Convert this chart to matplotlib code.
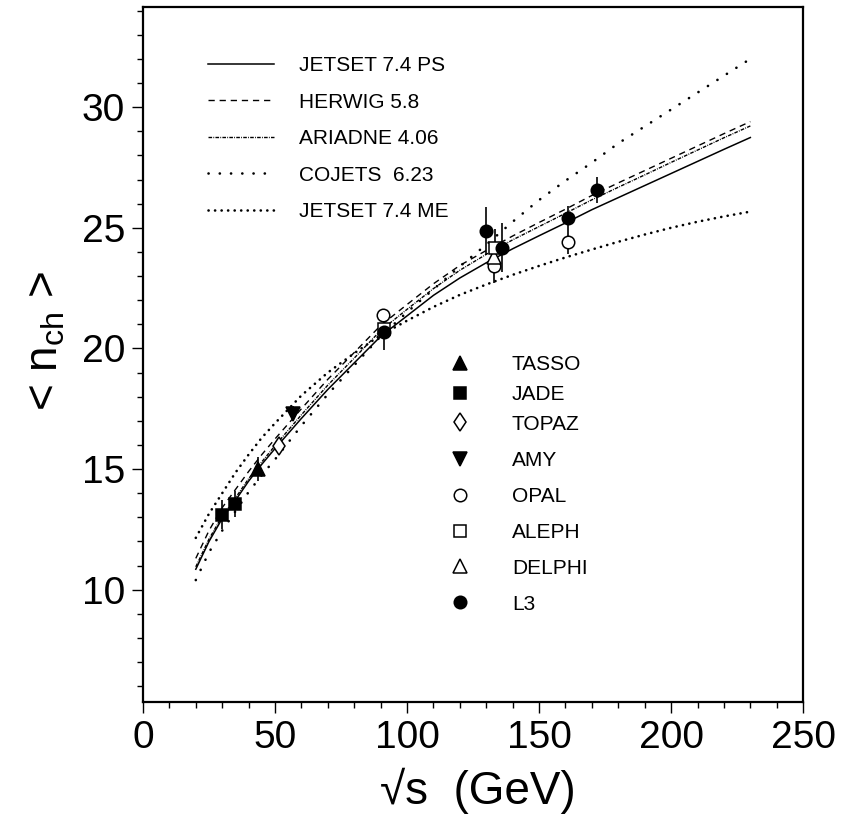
import matplotlib
matplotlib.use('Agg')
import matplotlib.pyplot as plt
from matplotlib.ticker import MultipleLocator

plt.rcParams['font.family'] = ['Liberation Sans', 'DejaVu Sans']
plt.rcParams['mathtext.default'] = 'regular'
plt.rcParams['lines.scale_dashes'] = False

# model curves, <n_ch> vs sqrt(s)
energy = [20, 25, 30, 35, 40, 45, 50, 60, 70, 80, 90, 100, 110, 120, 130,
          140, 150, 160, 170, 180, 190, 200, 210, 220, 230]
jetset_ps = [10.85, 12.0, 12.95, 13.7, 14.5, 15.2, 15.85, 17.1, 18.3, 19.4,
             20.5, 21.35, 22.2, 22.92, 23.55, 24.13, 24.67, 25.2, 25.75, 26.25,
             26.75, 27.25, 27.75, 28.25, 28.74]
herwig = [11.3, 12.45, 13.4, 14.15, 14.9, 15.6, 16.25, 17.5, 18.72, 19.83,
          20.95, 21.82, 22.68, 23.44, 24.06, 24.66, 25.22, 25.77, 26.34, 26.86,
          27.37, 27.88, 28.39, 28.9, 29.4]
ariadne = [10.95, 12.1, 13.05, 13.8, 14.6, 15.3, 15.97, 17.25, 18.48, 19.6,
           20.74, 21.62, 22.48, 23.24, 23.9, 24.5, 25.05, 25.6, 26.16, 26.68,
           27.19, 27.71, 28.22, 28.73, 29.22]
cojets = [10.4, 11.55, 12.45, 13.25, 14.05, 14.75, 15.4, 16.8, 18.1, 19.3,
          20.5, 21.5, 22.45, 23.4, 24.3, 25.25, 26.15, 26.95, 27.7, 28.5,
          29.2, 29.9, 30.6, 31.3, 32.0]
jetset_me = [12.15, 13.15, 14.0, 14.85, 15.6, 16.3, 16.9, 18.05, 19.0, 19.8,
             20.55, 21.15, 21.72, 22.22, 22.65, 23.05, 23.42, 23.77, 24.1, 24.42,
             24.72, 25.0, 25.25, 25.47, 25.67]

# measurements
tasso_x, tasso_y, tasso_e = [43.7], [15.0], [0.5]
jade_x, jade_y, jade_e = [29.8, 34.8], [13.1, 13.56], [0.6, 0.55]
topaz_x, topaz_y, topaz_e = [51.5], [15.95], [0.0]
amy_x, amy_y, amy_e = [56.9], [17.3], [0.3]
opal_x, opal_y, opal_e = [91.0, 133.0, 161.1], [21.4, 23.4, 24.42], [0.2, 0.7, 0.5]
aleph_x, aleph_y, aleph_e = [91.2, 133.3], [20.8, 24.16], [0.3, 0.8]
delphi_x, delphi_y, delphi_e = [133.0], [23.8], [0.4]
l3_x = [91.2, 130.0, 135.9, 161.1, 172.1]
l3_y = [20.7, 24.87, 24.18, 25.42, 26.57]
l3_e = [0.77, 1.0, 1.0, 0.5, 0.55]

fig = plt.figure(figsize=(8.41, 8.21), dpi=100)
ax = fig.add_axes([0.170, 0.145, 0.785, 0.8465])

curves = [
    (jetset_ps, 'JETSET 7.4 PS', dict(ls='-', lw=1.1)),
    (herwig, 'HERWIG 5.8', dict(ls=(0, (4.5, 3.5)), lw=1.0)),
    (ariadne, 'ARIADNE 4.06', dict(ls=(0, (2.6, 0.9, 0.6, 0.9)), lw=1.0)),
    (cojets, 'COJETS  6.23', dict(ls=(0, (0.1, 8.0)), lw=1.9,
                                  dash_capstyle='round')),
    (jetset_me, 'JETSET 7.4 ME', dict(ls=(0, (0.1, 4.6)), lw=1.9,
                                     dash_capstyle='round')),
]
line_handles = []
for vals, name, style in curves:
    h, = ax.plot(energy, vals, color='black', zorder=2, label=name, **style)
    line_handles.append(h)

exps = [
    (tasso_x, tasso_y, tasso_e, 'TASSO', dict(marker='^', mfc='black', ms=9.5)),
    (jade_x, jade_y, jade_e, 'JADE', dict(marker='s', mfc='black', ms=9)),
    (topaz_x, topaz_y, topaz_e, 'TOPAZ', dict(marker='d', mfc='white', ms=9.5)),
    (amy_x, amy_y, amy_e, 'AMY', dict(marker='v', mfc='black', ms=9.5)),
    (opal_x, opal_y, opal_e, 'OPAL', dict(marker='o', mfc='white', ms=9)),
    (delphi_x, delphi_y, delphi_e, 'DELPHI', dict(marker='^', mfc='white', ms=9.5)),
    (aleph_x, aleph_y, aleph_e, 'ALEPH', dict(marker='s', mfc='white', ms=9)),
    (l3_x, l3_y, l3_e, 'L3', dict(marker='o', mfc='black', ms=9)),
]
mark_handles = {}
for x, y, e, name, style in exps:
    ax.errorbar(x, y, yerr=e, fmt='none', ecolor='black', elinewidth=1.2,
                capsize=0, zorder=3)
    h, = ax.plot(x, y, ls='none', mec='black', mew=1.1, zorder=4, **style)
    mark_handles[name] = h

ax.set_xlim(0, 250)
ax.set_ylim(5.35, 34.15)
ax.xaxis.set_major_locator(MultipleLocator(50))
ax.xaxis.set_minor_locator(MultipleLocator(10))
ax.yaxis.set_major_locator(MultipleLocator(5))
ax.yaxis.set_minor_locator(MultipleLocator(1))
ax.tick_params(which='both', direction='out', top=False, right=False,
               width=1.0, labelsize=28, pad=5)
ax.tick_params(which='major', length=8)
ax.tick_params(which='minor', length=4)
for sp in ax.spines.values():
    sp.set_linewidth(1.6)

ax.set_xlabel('\u221as  (GeV)', fontsize=33)
ax.set_ylabel('< n$_{ch}$ >', fontsize=33)
ax.xaxis.set_label_coords(0.508, -0.095)
ax.yaxis.set_label_coords(-0.114, 0.52)

leg1 = ax.legend(handles=line_handles, loc='upper left',
                 bbox_to_anchor=(0.098, 0.929), frameon=False, fontsize=15,
                 handlelength=3.2, handletextpad=1.2, labelspacing=0.836,
                 borderpad=0, borderaxespad=0)
ax.add_artist(leg1)

names_a = ['TASSO', 'JADE', 'TOPAZ']
names_b = ['AMY', 'OPAL', 'ALEPH', 'DELPHI', 'L3']
leg2 = ax.legend(handles=[mark_handles[n] for n in names_a], labels=names_a,
                 loc='upper left', bbox_to_anchor=(0.464, 0.499),
                 frameon=False, fontsize=15, numpoints=1, handlelength=1.0,
                 handletextpad=2.0, labelspacing=0.514, borderpad=0,
                 borderaxespad=0)
ax.add_artist(leg2)
ax.legend(handles=[mark_handles[n] for n in names_b], labels=names_b,
          loc='upper left', bbox_to_anchor=(0.464, 0.361),
          frameon=False, fontsize=15, numpoints=1, handlelength=1.0,
          handletextpad=2.0, labelspacing=0.81, borderpad=0, borderaxespad=0)

fig.savefig('out.png', dpi=100)
